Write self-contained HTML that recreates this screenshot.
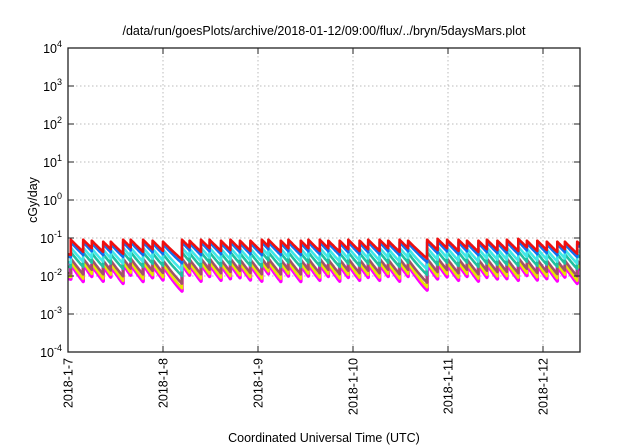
<!DOCTYPE html>
<html><head><meta charset="utf-8"><style>
body{margin:0;background:#fff;}
svg{display:block;font-family:"Liberation Sans",sans-serif;}
</style></head><body>
<svg id="chart" width="640" height="448" viewBox="0 0 640 448">
<rect width="640" height="448" fill="#fff"/>
<text x="324" y="35" font-size="12.5" text-anchor="middle">/data/run/goesPlots/archive/2018-01-12/09:00/flux/../bryn/5daysMars.plot</text>
<text transform="translate(37,200) rotate(-90)" font-size="12.5" text-anchor="middle">cGy/day</text>
<text x="324" y="442" font-size="12.5" text-anchor="middle">Coordinated Universal Time (UTC)</text>
<g id="grid"></g>
<svg x="68" y="48" width="512" height="304" viewBox="68 48 512 304" overflow="hidden"><g id="series"></g></svg>
<rect x="68" y="48" width="512" height="304" fill="none" stroke="#222" stroke-width="1.3"/>
<g id="axes"></g>
</svg>
<script>
const xTickLabels = ["2018-1-7","2018-1-8","2018-1-9","2018-1-10","2018-1-11","2018-1-12"];
const yTickExps = [4,3,2,1,0,-1,-2,-3,-4];
const spikeDays = [0.03,0.16,0.25,0.37,0.45,0.58,0.66,0.79,0.89,1.0,1.2,1.28,1.4,1.49,1.61,1.71,1.81,1.92,2.04,2.11,2.24,2.32,2.45,2.53,2.65,2.74,2.86,2.95,3.07,3.16,3.28,3.37,3.49,3.58,3.78,3.89,3.99,4.11,4.2,4.32,4.41,4.52,4.62,4.74,4.83,4.94,5.04,5.15,5.23,5.36];
const peakRed = [0.09,0.09,0.085,0.08,0.08,0.09,0.09,0.09,0.085,0.08,0.09,0.085,0.09,0.09,0.085,0.09,0.085,0.085,0.09,0.09,0.085,0.09,0.085,0.09,0.09,0.085,0.085,0.09,0.085,0.09,0.09,0.085,0.09,0.085,0.09,0.095,0.09,0.09,0.085,0.085,0.09,0.085,0.09,0.095,0.085,0.085,0.08,0.08,0.08,0.08];
const seriesNames = ["magenta","yellow","brown","teal","cyan","blue","red"];
const seriesColors = ["#ff00ff","#e6e600","#a0526a","#20c0a0","#40e8e8","#1070f0","#ee1010"];
const seriesScale = [0.23,0.26,0.32,0.47,0.62,0.86,1.0];
const seriesDecay = [2.7,2.6,2.45,2.3,2.2,2.05,1.95]; // drop factor per 0.105 day
const svg=document.getElementById('chart'), NS="http://www.w3.org/2000/svg";
const X0=68,X1=580,Y0=48,Y1=352,DAYPX=95;
const xs=d=>X0+d*DAYPX;
const ys=v=>Y1-(Math.log10(v)+4)*(Y1-Y0)/8;
function mk(tag,attrs,parent){const e=document.createElementNS(NS,tag);for(const k in attrs)e.setAttribute(k,attrs[k]);parent.appendChild(e);return e;}
const grid=document.getElementById('grid'),axes=document.getElementById('axes');
yTickExps.forEach(ex=>{
  const y=ys(Math.pow(10,ex));
  if(ex<4&&ex>-4){const l=mk('line',{x1:X0,x2:X1,y1:y,y2:y,stroke:'#bbb','stroke-dasharray':'1.5,2.5'},grid);
  
  }
  const t1=mk('line',{x1:X0,x2:X0+6,y1:y,y2:y,stroke:'#222'},axes);
  
  
  const t2=mk('line',{x1:X1-6,x2:X1,y1:y,y2:y,stroke:'#222'},axes);
  
  
  const tx=mk('text',{x:62,y:y+5,'font-size':'12.5','text-anchor':'end'},axes);
  
  
  tx.innerHTML='10<tspan dy="-6" font-size="9">'+ex+'</tspan>';
});
xTickLabels.forEach((lab,i)=>{
  const x=xs(i);
  if(i>0){const g=mk('line',{x1:x,x2:x,y1:Y0,y2:Y1,stroke:'#bbb','stroke-dasharray':'1.5,2.5'},grid);
  
  }
  const t1=mk('line',{x1:x,x2:x,y1:Y1-6,y2:Y1,stroke:'#222'},axes);
  
  
  const t2=mk('line',{x1:x,x2:x,y1:Y0,y2:Y0+6,stroke:'#222'},axes);
  
  
  const tx=mk('text',{transform:`translate(${x+4.5},358) rotate(-90)`,'font-size':'12.5','text-anchor':'end'},axes);
  
  
  tx.textContent=lab;
});
const sg=document.getElementById('series');
seriesNames.forEach((nm,si)=>{
  const k=Math.log(seriesDecay[si])/0.105;
  let d='';
  spikeDays.forEach((t,i)=>{
    const end=i<spikeDays.length-1?spikeDays[i+1]:5.39;
    const p=peakRed[i]*seriesScale[si];
    if(i===0) d+=`M${xs(-0.05).toFixed(1)},${ys(p*0.45).toFixed(1)}L${xs(t).toFixed(1)},${ys(p*0.4).toFixed(1)}`;
    for(let s=0;s<=12;s++){const tt=t+(end-t)*s/12;const v=p*(0.08+0.92*Math.exp(-k*(tt-t)));d+=`L${xs(tt).toFixed(1)},${ys(v).toFixed(1)}`;}
  });
  const path=mk('path',{d:d,fill:'none',stroke:seriesColors[si],'stroke-width':si===0?3.6:2.6,'stroke-linejoin':'round'},sg);
  
  
});
</script>
</body></html>
